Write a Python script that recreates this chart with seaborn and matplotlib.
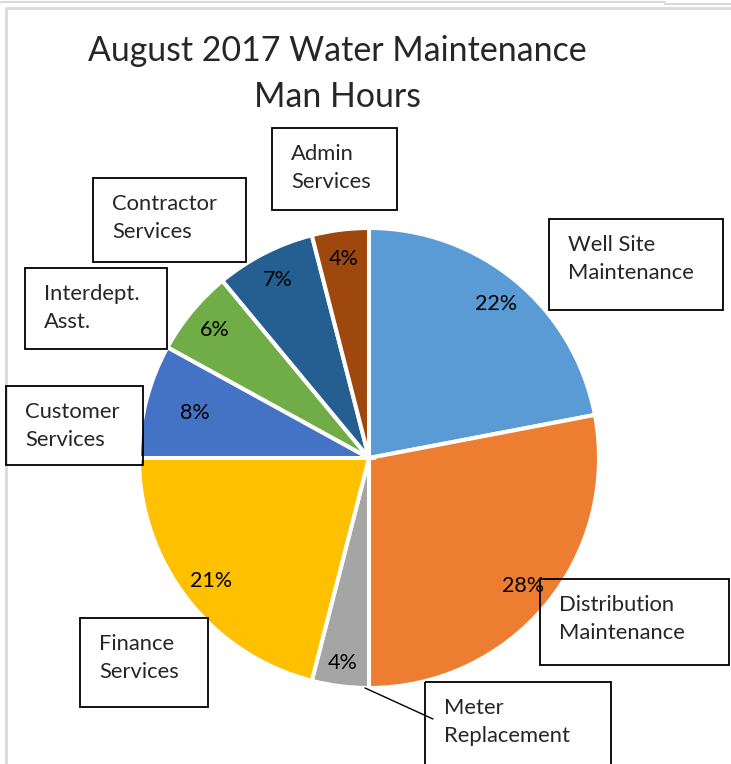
import numpy as np
import seaborn as sns
import matplotlib.pyplot as plt
from matplotlib.patches import Rectangle

categories = [
    "Well Site\nMaintenance",
    "Distribution\nMaintenance",
    "Meter\nReplacement",
    "Finance\nServices",
    "Customer\nServices",
    "Interdept.\nAsst.",
    "Contractor\nServices",
    "Admin\nServices",
]
hours_pct = [22, 28, 4, 21, 8, 6, 7, 4]
colors = ["#5B9BD5", "#ED7D31", "#A5A5A5", "#FFC000",
          "#4472C4", "#70AD47", "#255E91", "#9E480E"]

# label boxes in pixel coords: left, top, right, bottom
boxes = [
    (549, 219, 723, 310),
    (540, 579, 729, 665),
    (425, 682, 611, 775),
    (80, 618, 208, 707),
    (6, 386, 143, 465),
    (25, 268, 167, 349),
    (93, 178, 246, 262),
    (272, 128, 397, 210),
]

W, H = 731, 764
sns.set_theme(style="white")
plt.rcParams["font.family"] = ["Lato", "DejaVu Sans"]

fig = plt.figure(figsize=(W / 100, H / 100), dpi=100)
ax = fig.add_axes([0, 0, 1, 1])

cx, cy, r = 369, 458, 230
wedges, texts, autotexts = ax.pie(
    hours_pct,
    colors=sns.color_palette(colors),
    center=(cx, cy),
    radius=r,
    startangle=-90,
    counterclock=True,
    autopct="%d%%",
    pctdistance=0.87,
    wedgeprops=dict(edgecolor="white", linewidth=2.9),
    textprops=dict(fontsize=15.5, color="black"),
)
ax.set_xlim(0, W)
ax.set_ylim(H, 0)
ax.set_aspect("auto")
ax.axis("off")

# customer services label sits closer to the centre, meter label further out
for i, frac in [(4, 0.78), (2, 0.9)]:
    w = wedges[i]
    mid = np.deg2rad((w.theta1 + w.theta2) / 2)
    autotexts[i].set_position((cx + frac * r * np.cos(mid), cy + frac * r * np.sin(mid)))

for (x0, y0, x1, y1), name in zip(boxes, categories):
    ax.add_patch(Rectangle((x0, y0), x1 - x0, y1 - y0, fill=False,
                           edgecolor="black", linewidth=1.3, zorder=5))
    ax.text(x0 + 19, y0 + 40, name, ha="left", va="center",
            fontsize=15.8, linespacing=1.55, zorder=6)

# leader line for meter replacement
w = wedges[2]
a = np.deg2rad(w.theta1 + 1)
ax.annotate("", xy=(cx + r * np.cos(a), cy + r * np.sin(a)), xytext=(433, 719),
            arrowprops=dict(arrowstyle="-", color="black", lw=1.0,
                            shrinkA=0, shrinkB=0))

ax.text(337, 74, "August 2017 Water Maintenance\nMan Hours", ha="center",
        va="center", fontsize=24.4, linespacing=1.55)

# sheet / chart area frame
grey = "#D9D9D9"
ax.plot([0, 665, 665, W], [2, 2, 4, 4], color=grey, lw=1.5, clip_on=False)
ax.plot([6, 6, W], [H, 8, 8], color=grey, lw=2, clip_on=False)

fig.savefig("out.png", dpi=100)
